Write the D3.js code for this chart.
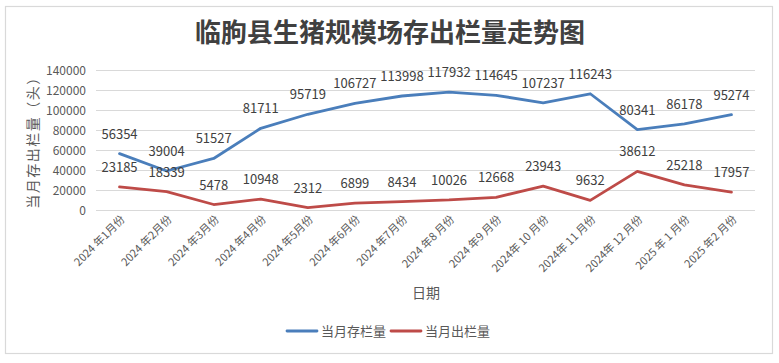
<!DOCTYPE html>
<html><head><meta charset="utf-8">
<script src="https://cdn.jsdelivr.net/npm/d3@7"></script>
<style>
body{margin:0;background:#fff;}
svg{display:block;font-family:"Noto Sans CJK SC","Noto Sans",sans-serif;}
</style></head><body>
<svg id="c" width="779" height="363"></svg>
<script>
const categories = ["2024 年1月份","2024 年2月份","2024 年3月份","2024 年4月份","2024 年5月份","2024 年6月份","2024 年7月份","2024 年8 月份","2024 年9 月份","2024年 10 月份","2024年 11 月份","2024年 12 月份","2025 年 1 月份","2025 年2 月份"];
const stockValues = [56354,39004,51527,81711,95719,106727,113998,117932,114645,107237,116243,80341,86178,95274];
const outValues = [23185,18339,5478,10948,2312,6899,8434,10026,12668,23943,9632,38612,25218,17957];
const yTicks = [0,20000,40000,60000,80000,100000,120000,140000];
const seriesNames = ["当月存栏量","当月出栏量"];
const colors = ["#4a7ebb","#be4b48"];

const svg = d3.select("#c");
svg.append("rect").attr("x",5.5).attr("y",6.5).attr("width",767).attr("height",347)
  .attr("fill","#fff").attr("stroke","#d9d9d9").attr("stroke-width",1.2);

svg.append("text").attr("x",390).attr("y",42).attr("text-anchor","middle")
  .attr("font-size",26).attr("font-weight","bold").attr("fill","#404040")
  .text("临朐县生猪规模场存出栏量走势图");

const x = d3.scaleBand().domain(categories).range([96,755]);
const y = d3.scaleLinear().domain([0,140000]).range([210,70]);

const grid = svg.append("g");
yTicks.forEach(t=>{
  grid.append("line").attr("x1",96).attr("x2",755).attr("y1",y(t)+0.5).attr("y2",y(t)+0.5)
    .attr("stroke","#d9d9d9").attr("stroke-width",1);
  grid.append("text").attr("x",86).attr("y",y(t)+4.5).attr("text-anchor","end")
    .attr("font-size",12).attr("fill","#595959").text(t);
});

categories.forEach(c=>{
  const cx = x(c)+x.bandwidth()/2;
  svg.append("text").attr("transform",`translate(${cx+6},${220}) rotate(-45)`)
    .attr("text-anchor","end").attr("font-size",11).attr("fill","#595959").text(c);
});

const line = d3.line().x((d,i)=>x(categories[i])+x.bandwidth()/2).y(d=>y(d));
[stockValues,outValues].forEach((vals,k)=>{
  svg.append("path").datum(vals).attr("d",line).attr("fill","none")
    .attr("stroke",colors[k]).attr("stroke-width",2.8).attr("stroke-linejoin","round").attr("stroke-linecap","round");
});
[stockValues,outValues].forEach((vals,k)=>{
  vals.forEach((v,i)=>{
    svg.append("text").attr("x",x(categories[i])+x.bandwidth()/2).attr("y",y(v)-15)
      .attr("text-anchor","middle").attr("font-size",13).attr("fill","#404040").text(v);
  });
});

svg.append("text").attr("transform","translate(38,139) rotate(-90)").attr("text-anchor","middle")
  .attr("font-size",14).attr("letter-spacing",1.5).attr("fill","#595959").text("当月存出栏量（头）");
svg.append("text").attr("x",426).attr("y",298).attr("text-anchor","middle")
  .attr("font-size",14).attr("fill","#595959").text("日期");

const lg = [[287,321],[391,425]];
seriesNames.forEach((n,k)=>{
  svg.append("line").attr("x1",lg[k][0]).attr("x2",lg[k][0]+30).attr("y1",331).attr("y2",331)
    .attr("stroke",colors[k]).attr("stroke-width",2.8).attr("stroke-linecap","round");
  svg.append("text").attr("x",lg[k][1]).attr("y",336).attr("font-size",13).attr("fill","#595959").text(n);
});
</script></body></html>
